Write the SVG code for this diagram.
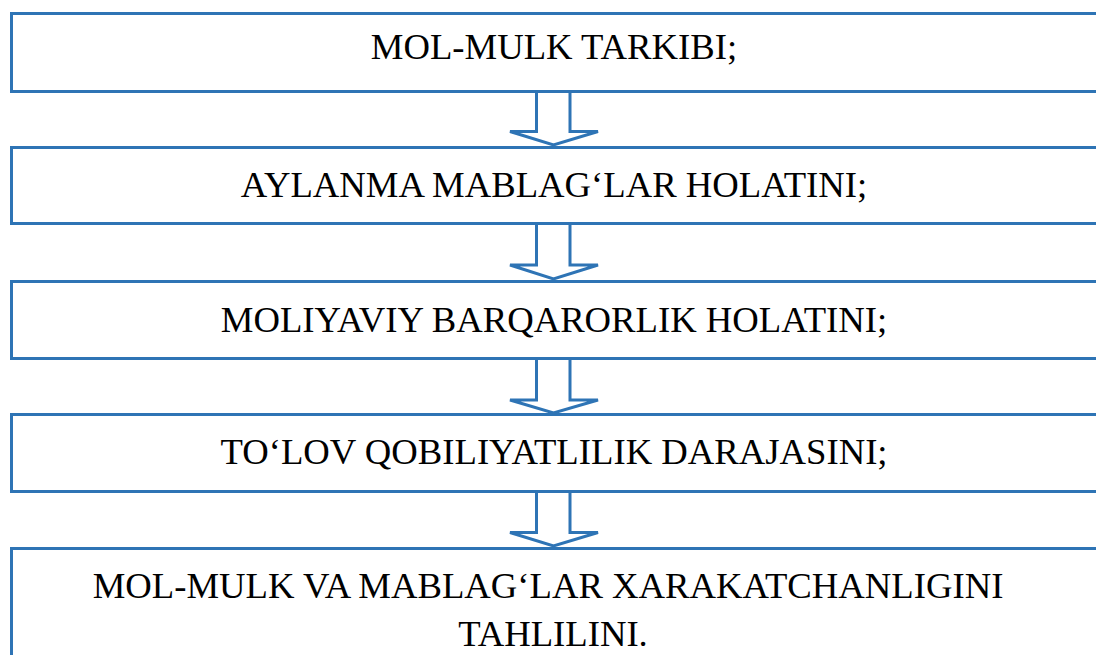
<svg xmlns="http://www.w3.org/2000/svg" width="1096" height="655" viewBox="0 0 1096 655">
  <style>
    .box { fill: #ffffff; stroke: #2E74B5; stroke-width: 3; }
    .arrow { fill: #ffffff; stroke: #2E74B5; stroke-width: 3; stroke-linejoin: miter; }
    .label { font-family: "Liberation Serif", "Times New Roman", serif; font-size: 36.7px; fill: #000000; text-anchor: middle; }
  </style>
  <rect width="1096" height="655" fill="#ffffff"/>

  <g id="node1">
    <rect class="box" x="11.5" y="13.5" width="1100" height="78"/>
    <text class="label" x="554" y="59">MOL-MULK TARKIBI;</text>
  </g>
  <g id="node2">
    <rect class="box" x="11.5" y="147.5" width="1100" height="76"/>
    <text class="label" x="554" y="197">AYLANMA MABLAG‘LAR HOLATINI;</text>
  </g>
  <g id="node3">
    <rect class="box" x="11.5" y="281.5" width="1100" height="77"/>
    <text class="label" x="554" y="332">MOLIYAVIY BARQARORLIK HOLATINI;</text>
  </g>
  <g id="node4">
    <rect class="box" x="11.5" y="414.5" width="1100" height="77"/>
    <text class="label" x="554" y="464">TO‘LOV QOBILIYATLILIK DARAJASINI;</text>
  </g>
  <g id="node5">
    <rect class="box" x="11.5" y="548.5" width="1100" height="120"/>
    <text class="label" x="548" y="598">MOL-MULK VA MABLAG‘LAR XARAKATCHANLIGINI</text>
    <text class="label" x="553" y="646">TAHLILINI.</text>
  </g>

  <g id="connectors">
    <path class="arrow" d="M536.5,93 V131.5 H510 L553.5,145 L598,131.5 H570 V93"/>
    <path class="arrow" d="M536.5,225 V265 H510 L553.5,279 L598,265 H570 V225"/>
    <path class="arrow" d="M536.5,360 V400 H510 L553.5,413 L598,400 H570 V360"/>
    <path class="arrow" d="M536.5,493 V532.5 H510 L553.5,546 L598,532.5 H570 V493"/>
  </g>
</svg>
